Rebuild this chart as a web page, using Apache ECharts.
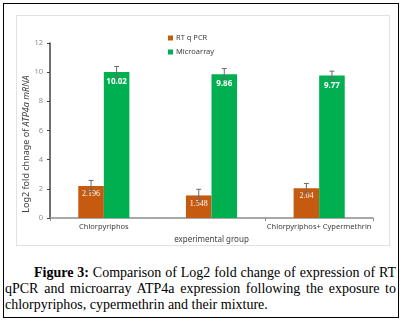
<!DOCTYPE html>
<html>
<head>
<meta charset="utf-8">
<script src="https://cdn.jsdelivr.net/npm/echarts@6/dist/echarts.min.js"></script>
<style>
  body { margin: 0; background: #fff; }
  .frame { position: absolute; left: 3px; top: 3px; width: 394px; height: 313px; border: 1.5px solid #000; }
  .chart { position: absolute; left: 12px; top: 11px; width: 372px; height: 229px; border: 1px solid #e2e2e2; }
  .caption { position: absolute; left: 1px; top: 261px; width: 391px; font-family: "Liberation Serif", serif; font-size: 14px; line-height: 16px; text-align: justify; color: #000; text-indent: 29px; }
</style>
</head>
<body>
<div class="frame">
  <div class="chart" id="chart"></div>
  <div class="caption"><b>Figure 3:</b> Comparison of Log2 fold change of expression of RT qPCR and microarray ATP4a expression following the exposure to chlorpyriphos, cypermethrin and their mixture.</div>
</div>
<script>
// data
const groups = ['Chlorpyriphos', 'Cypermethrin', 'Chlorpyriphos+ Cypermethrin']
const rtqpcr = [2.196, 1.548, 2.04]
const microarray = [10.02, 9.86, 9.77]
const rtqpcrErr = [0.38, 0.42, 0.33]
const microarrayErr = [0.37, 0.39, 0.3]
const yTicks = [0, 2, 4, 6, 8, 10, 12]

const chart = echarts.init(document.getElementById('chart'))

// error bar drawn over a grouped bar; side -1 = left bar, 1 = right bar
function errorBars(values, errs, side) {
  return {
    type: 'custom',
    z: 10,
    silent: true,
    data: values.map((v, i) => [i, v, errs[i]]),
    renderItem: (params, api) => {
      const band = api.size([1, 0])[0]
      const top = api.coord([api.value(0), api.value(1) + api.value(2)])
      const bot = api.coord([api.value(0), api.value(1) - api.value(2)])
      const x = top[0] + side * band * 0.1186
      const cap = 2.5
      const style = { stroke: '#6b6b6b', lineWidth: 1 }
      return {
        type: 'group',
        children: [
          { type: 'line', shape: { x1: x, y1: top[1], x2: x, y2: bot[1] }, style },
          { type: 'line', shape: { x1: x - cap, y1: top[1], x2: x + cap, y2: top[1] }, style },
          { type: 'line', shape: { x1: x - cap, y1: bot[1], x2: x + cap, y2: bot[1] }, style }
        ]
      }
    }
  }
}

chart.setOption({
  animation: false,
  textStyle: { fontFamily: 'Noto Sans' },
  grid: { left: 33, right: 16, top: 27, bottom: 27, outerBoundsMode: 'none', containLabel: false },
  legend: {
    orient: 'vertical',
    left: 146,
    top: 13,
    itemWidth: 5,
    itemHeight: 5,
    itemGap: 6,
    icon: 'rect',
    textStyle: { fontSize: 7.5, color: '#404040', padding: [0, 0, 0, -2] },
    data: ['RT q PCR', 'Microarray']
  },
  // y axis title, rotated, with the gene name in italics
  graphic: [{
    type: 'text',
    x: 9,
    y: 128,
    rotation: Math.PI / 2,
    style: {
      text: '{a|Log2 fold chnage of }{b|ATP4a mRNA}',
      align: 'center',
      verticalAlign: 'middle',
      rich: {
        a: { fontSize: 9, fill: '#404040', fontFamily: 'Noto Sans' },
        b: { fontSize: 9, fill: '#404040', fontFamily: 'Noto Sans', fontStyle: 'italic' }
      }
    }
  }],
  xAxis: {
    type: 'category',
    data: groups,
    name: 'experimental group',
    nameLocation: 'middle',
    nameGap: 18,
    nameTextStyle: { fontSize: 8, color: '#404040' },
    axisLine: { lineStyle: { color: '#8c8c8c', width: 1.5 } },
    axisTick: { show: true, length: 3, lineStyle: { color: '#8c8c8c' } },
    axisLabel: { fontSize: 7.5, color: '#404040', margin: 5 }
  },
  yAxis: {
    type: 'value',
    min: yTicks[0],
    max: yTicks[yTicks.length - 1],
    interval: 2,
    splitLine: { show: false },
    axisLine: { show: true, lineStyle: { color: '#404040', width: 1.5 } },
    axisTick: { show: true, inside: false, length: 3, lineStyle: { color: '#404040' } },
    axisLabel: { fontSize: 7.5, color: '#8c8c8c', margin: 7 }
  },
  series: [
    {
      name: 'RT q PCR',
      type: 'bar',
      data: rtqpcr,
      barGap: 0,
      barCategoryGap: '52.5%',
      itemStyle: { color: '#C55A11' },
      label: {
        show: true,
        position: 'insideTop',
        distance: 4,
        color: '#fff',
        fontSize: 8,
        fontFamily: 'Liberation Serif'
      }
    },
    {
      name: 'Microarray',
      type: 'bar',
      data: microarray,
      itemStyle: { color: '#00B050' },
      label: {
        show: true,
        position: 'insideTop',
        distance: 6,
        color: '#fff',
        fontSize: 8,
        fontWeight: 'bold'
      }
    },
    errorBars(rtqpcr, rtqpcrErr, -1),
    errorBars(microarray, microarrayErr, 1)
  ]
})
</script>
</body>
</html>
